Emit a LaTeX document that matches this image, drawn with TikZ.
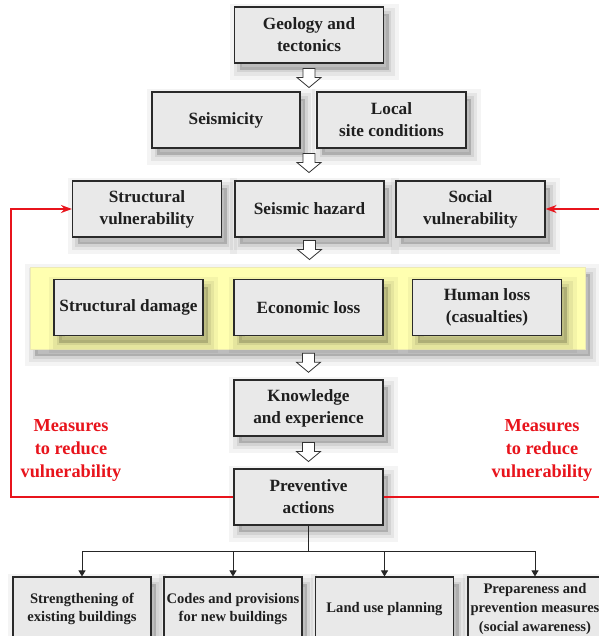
\documentclass[tikz,border=0pt]{standalone}
\usepackage{fontspec}
\setmainfont{Liberation Serif}
\usetikzlibrary{arrows.meta,calc}
\definecolor{boxfill}{HTML}{E9E9E9}
\definecolor{boxline}{HTML}{2A2A2A}
\definecolor{band}{HTML}{FFFFB0}
\definecolor{mred}{HTML}{E8141C}
\newcommand\hollowarrow[1]{\draw[harrowstyle] #1 ++(-6,0) -- ++(12,0) -- ++(0,-9) -- ++(6,0) -- ++(-12,-10) -- ++(-12,10) -- ++(6,0) -- cycle;}
\begin{document}
\begin{tikzpicture}[x=1pt,y=1pt,
  shad/.style={
    preaction={fill=black, draw=black, opacity=0.045, line width=20pt, transform canvas={shift={(5pt,-7pt)}}},
    preaction={fill=black, draw=black, opacity=0.06, line width=12pt, transform canvas={shift={(5pt,-7pt)}}},
    preaction={fill=black, draw=black, opacity=0.08, line width=5pt, transform canvas={shift={(5pt,-7pt)}}}},
  box/.style={shad, draw=boxline, line width=1.1pt, fill=boxfill, minimum width=149pt, minimum height=56pt, inner sep=2pt, align=center, text=black!88, font=\bfseries\fontsize{17.2}{22}\selectfont},
  sbox/.style={box, minimum width=138pt, minimum height=64pt, font=\bfseries\fontsize{14.6}{18.8}\selectfont},
  bandbox/.style={shad, draw=yellow!60!gray!40, line width=0.6pt, fill=band, minimum width=555pt, minimum height=82pt, inner sep=0pt},
  harrowstyle/.style={draw=black!80, line width=0.8pt, fill=white, line join=miter},
  redline/.style={draw=mred, line width=2pt, -{Stealth[length=11pt,width=8pt]}},
  treeline/.style={draw=black!85, line width=1pt, -{Triangle[length=6pt,width=7pt]}},
  redtext/.style={text=mred, align=center, font=\bfseries\fontsize{18.3}{23}\selectfont}
]
\fill[white] (0,0) rectangle (598,-636);
\useasboundingbox (0,0) rectangle (598,-636);

\node[box] (geo) at (309,-35) {Geology and\\tectonics};
\node[box, minimum width=148pt] (seis) at (226,-120) {Seismicity};
\node[box] (local) at (391.5,-120) {Local\\site conditions};
\node[box] (sv) at (147,-209) {Structural\\vulnerability};
\node[box] (sh) at (309.5,-209) {Seismic hazard};
\node[box] (soc) at (470.5,-209) {Social\\vulnerability};

\node[bandbox] (band) at (307.5,-308) {};
\node[box] (sd) at (128.5,-307.5) {Structural damage};
\node[box] (el) at (308.5,-307.5) {Economic loss};
\node[box] (hl) at (487,-307.5) {Human loss\\(casualties)};

\node[box] (kn) at (308.5,-408) {Knowledge\\and experience};
\node[box] (prev) at (308.5,-497) {Preventive\\actions};

\node[sbox] (s1) at (82,-609) {Strengthening of\\existing buildings};
\node[sbox] (s2) at (233,-609) {Codes and provisions\\for new buildings};
\node[sbox] (s3) at (384.5,-609) {Land use planning};
\node[sbox, minimum width=134pt] (s4) at (535,-609) {Prepareness and\\prevention measures\\(social awareness)};

\node[redtext] (ml) at (71,-450) {Measures\\to reduce\\vulnerability};
\node[redtext] (mr) at (542,-450) {Measures\\to reduce\\vulnerability};

\hollowarrow{($(geo.south)+(0,-5)$)}
\hollowarrow{($(geo.south |- seis.south)+(0,-5)$)}
\hollowarrow{($(sh.south)+(0,-3)$)}
\hollowarrow{($(band.south)+(1,-4)$)}
\hollowarrow{($(kn.south)+(0,-6)$)}

\coordinate (lc) at (11,-209);
\coordinate (rc) at (602,-209);
\draw[redline] (prev.west) -| (lc) -- (sv.west);
\draw[redline] (prev.east) -| (rc) -- (soc.east);

\coordinate (jn) at ($(prev.south)+(0,-26)$);
\draw[draw=black!85, line width=1pt] (prev.south) -- (jn);
\foreach \n in {s1,s2,s3,s4} \draw[treeline] (jn) -| (\n.north);
\end{tikzpicture}
\end{document}
